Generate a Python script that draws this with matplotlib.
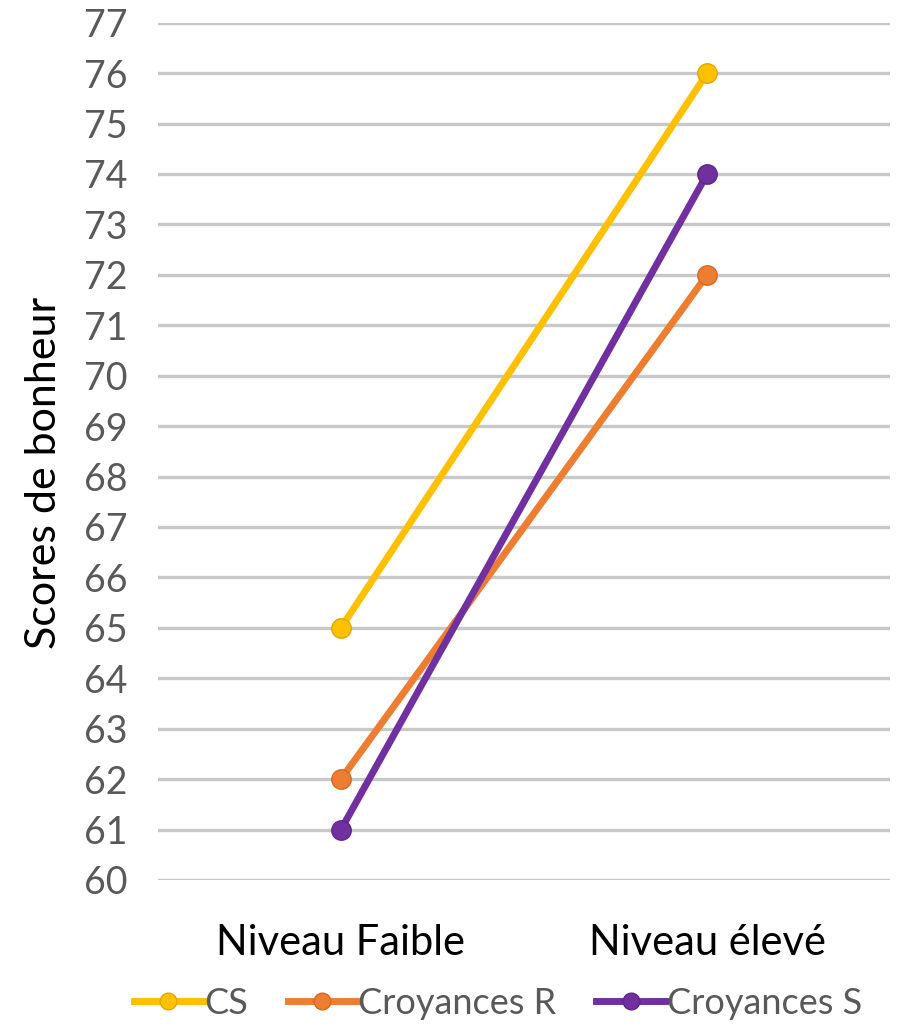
import matplotlib.pyplot as plt
from matplotlib.lines import Line2D

categories = ['Niveau Faible', 'Niveau élevé']
series_names = ['CS', 'Croyances R', 'Croyances S']
cs = [65, 76]
croyances_r = [62, 72]
croyances_s = [61, 74]
yticks = list(range(60, 78))

colors = ['#FFC000', '#ED7D31', '#7030A0']
edges = ['#E0A800', '#D46A22', '#5E2688']

plt.rcParams['font.family'] = ['Lato', 'DejaVu Sans']

fig = plt.figure(figsize=(9.02, 10.31), dpi=100)
ax = fig.add_axes([0.175, 0.1465, 0.812, 0.8315])

x = list(range(len(categories)))
for vals, name, c, e in zip([cs, croyances_r, croyances_s], series_names, colors, edges):
    ax.plot(x, vals, color=c, lw=5, marker='o', ms=14, mfc=c, mec=e, mew=1,
            solid_capstyle='round', label=name, zorder=3)

ax.set_xlim(-0.5, 1.5)
ax.set_ylim(60, 77)
ax.set_yticks(yticks)
ax.set_xticks(x)
ax.set_xticklabels(categories, fontsize=30, color='black')
ax.tick_params(axis='y', labelsize=27, labelcolor='#595959', length=0, pad=22)
ax.tick_params(axis='x', length=0, pad=32)
ax.grid(axis='y', color='#C8C8C8', lw=2.4)
ax.set_axisbelow(True)
for s in ax.spines.values():
    s.set_visible(False)
ax.set_ylabel('Scores de bonheur', fontsize=31, color='black')
ax.yaxis.set_label_coords(-0.13, 0.475)

handles = [Line2D([0], [0], color=c, lw=5, marker='o', ms=12, mfc=c, mec=e)
           for c, e in zip(colors, edges)]
fig.legend(handles, series_names, loc='center', bbox_to_anchor=(0.552, 0.027),
           ncol=3, frameon=False, fontsize=26, labelcolor='#595959',
           handlelength=1.9, handletextpad=0.05, columnspacing=1.1)

fig.savefig('out.png', dpi=100)
